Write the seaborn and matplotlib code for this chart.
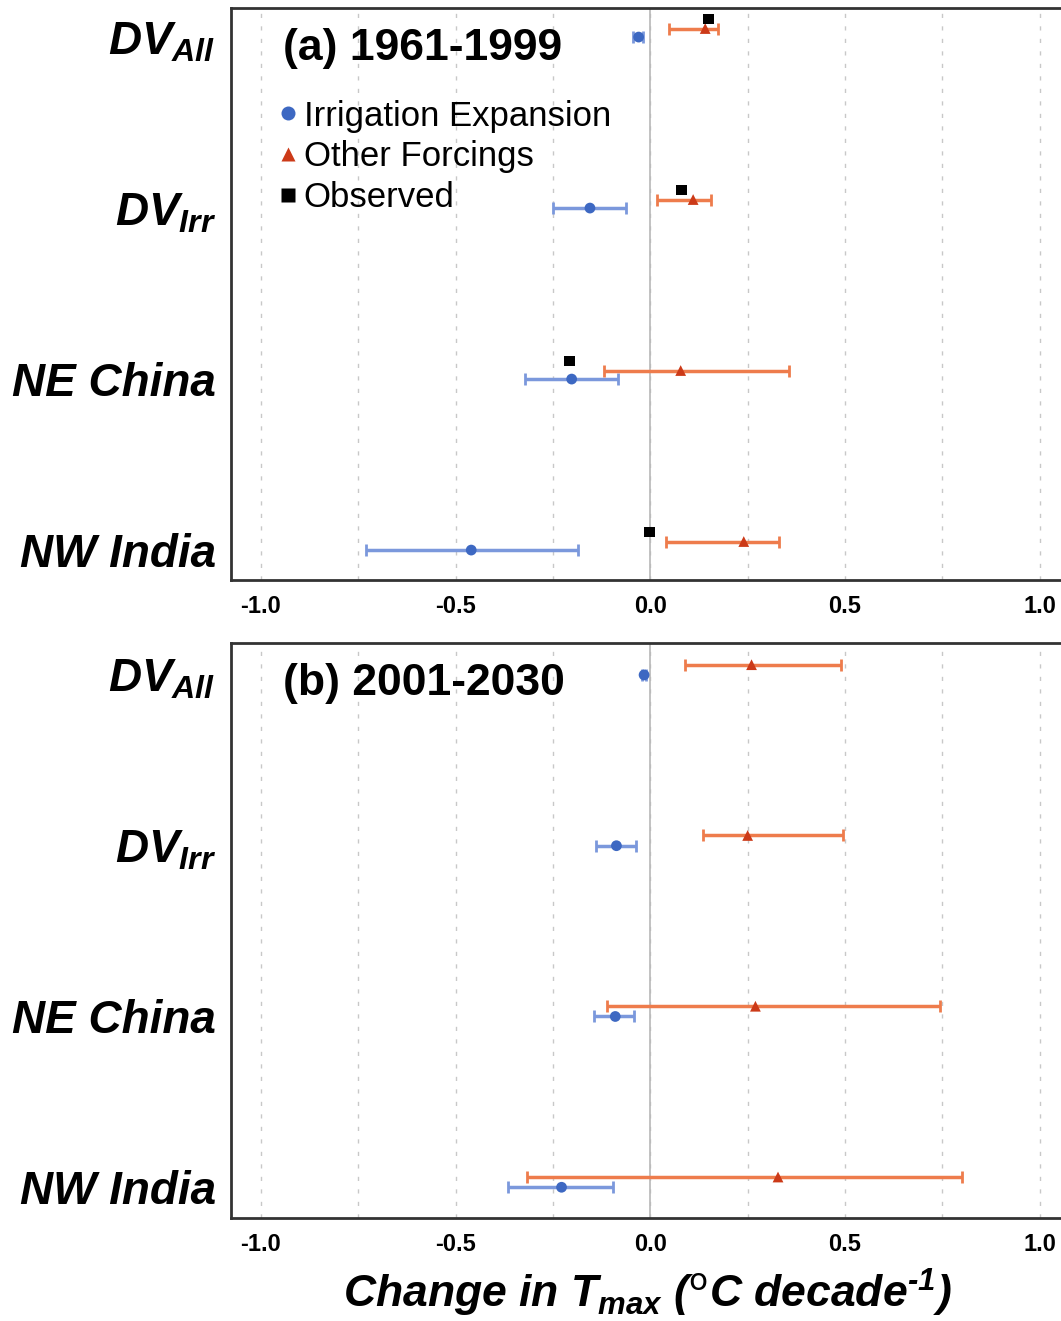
import numpy as np
import pandas as pd
import matplotlib
matplotlib.use("Agg")
import matplotlib.pyplot as plt
import seaborn as sns

# Regions (top to bottom)
regions = ["DV_All", "DV_Irr", "NE China", "NW India"]
tick_labels = [r"$DV_{All}$", r"$DV_{Irr}$", "NE China", "NW India"]

# (a) 1961-1999
a_irr = [-0.030, -0.155, -0.202, -0.460]
a_irr_lo = [-0.045, -0.250, -0.323, -0.730]
a_irr_hi = [-0.018, -0.062, -0.083, -0.185]
a_oth = [0.141, 0.110, 0.078, 0.240]
a_oth_lo = [0.049, 0.018, -0.118, 0.040]
a_oth_hi = [0.175, 0.157, 0.355, 0.330]
a_obs = [0.149, 0.080, -0.208, -0.002]

# (b) 2001-2030
b_irr = [-0.016, -0.087, -0.090, -0.228]
b_irr_lo = [-0.022, -0.139, -0.144, -0.365]
b_irr_hi = [-0.012, -0.036, -0.042, -0.097]
b_oth = [0.260, 0.250, 0.270, 0.328]
b_oth_lo = [0.090, 0.135, -0.110, -0.316]
b_oth_hi = [0.490, 0.494, 0.745, 0.800]

sns.set_style("white")
plt.rcParams['font.family'] = ['Liberation Sans', 'DejaVu Sans']
plt.rcParams['mathtext.fontset'] = 'custom'
plt.rcParams['mathtext.it'] = 'Liberation Sans:italic:bold'
plt.rcParams['mathtext.rm'] = 'Liberation Sans:italic:bold'
plt.rcParams['mathtext.bf'] = 'Liberation Sans:italic:bold'
for k in ['text.color', 'axes.labelcolor', 'xtick.color', 'ytick.color']:
    plt.rcParams[k] = 'black'

blue_pt = "#3d68c2"
blue_bar = "#7b98dc"
red_pt = "#cc3a18"
red_bar = "#ee7c4c"

palette = {"Irrigation Expansion": blue_pt,
           "Other Forcings": red_pt,
           "Observed": "black"}
markers = {"Irrigation Expansion": "o",
           "Other Forcings": "^",
           "Observed": "s"}

fig = plt.figure(figsize=(10.61, 13.21), dpi=100)
ax_a = fig.add_axes([231 / 1061, 1 - 580 / 1321, 832 / 1061, 572 / 1321])
ax_b = fig.add_axes([231 / 1061, 1 - 1218 / 1321, 832 / 1061, 575 / 1321])

ypos = np.arange(len(regions))


def panel(ax, irr, irr_lo, irr_hi, oth, oth_lo, oth_hi, obs, title, ylim,
          red_off):
    irr = np.array(irr)
    oth = np.array(oth)

    # error bars
    ax.errorbar(irr, ypos, xerr=[irr - np.array(irr_lo), np.array(irr_hi) - irr],
                fmt='none', ecolor=blue_bar, elinewidth=2.5, capsize=4,
                capthick=2, zorder=3)
    ax.errorbar(oth, ypos + red_off,
                xerr=[oth - np.array(oth_lo), np.array(oth_hi) - oth],
                fmt='none', ecolor=red_bar, elinewidth=2.5, capsize=4,
                capthick=2, zorder=3)

    frames = [
        pd.DataFrame({"value": irr, "y": ypos,
                      "series": "Irrigation Expansion"}),
        pd.DataFrame({"value": oth, "y": ypos + red_off,
                      "series": "Other Forcings"}),
    ]
    if obs is not None:
        frames.append(pd.DataFrame({"value": obs, "y": ypos - 0.105,
                                    "series": "Observed"}))
    df = pd.concat(frames, ignore_index=True)

    sns.scatterplot(data=df, x="value", y="y", hue="series", style="series",
                    palette=palette, markers=markers, s=60, edgecolor="none",
                    legend=obs is not None, ax=ax, zorder=4)

    ax.set_xlim(-1.077, 1.06)
    ax.set_ylim(*ylim)
    ax.set_xticks([-1.0, -0.5, 0.0, 0.5, 1.0])
    ax.set_xticklabels(["-1.0", "-0.5", "0.0", "0.5", "1.0"],
                       fontsize=17, fontweight='bold')
    ax.set_xticks(np.arange(-1.0, 1.01, 0.25), minor=True)
    ax.set_yticks(ypos)
    ax.set_yticklabels(tick_labels, fontsize=33, fontweight='bold',
                       fontstyle='italic')
    ax.xaxis.grid(True, which='both', linestyle=(0, (3, 6)), color="#c8c8c8",
                  linewidth=1)
    ax.yaxis.grid(False)
    ax.axvline(0, color="#b8b8b8", linewidth=1.2, zorder=1)
    ax.tick_params(axis='both', which='major', direction='in', length=4,
                   width=1.5, color="#333333")
    ax.tick_params(axis='x', which='minor', length=0)
    ax.tick_params(axis='x', pad=11)
    ax.tick_params(axis='y', pad=11)
    for s in ax.spines.values():
        s.set_color("#333333")
        s.set_linewidth(2)
    ax.set_xlabel("")
    ax.set_ylabel("")
    ax.text(0.062, 0.93, title, transform=ax.transAxes, fontsize=32,
            fontweight='bold', va='center', ha='left')


panel(ax_a, a_irr, a_irr_lo, a_irr_hi, a_oth, a_oth_lo, a_oth_hi, a_obs,
      "(a) 1961-1999", (3.175, -0.17), -0.05)
panel(ax_b, b_irr, b_irr_lo, b_irr_hi, b_oth, b_oth_lo, b_oth_hi, None,
      "(b) 2001-2030", (3.18, -0.187), -0.06)

leg = ax_a.legend(loc='upper left', bbox_to_anchor=(0.052, 0.84),
                  frameon=False, fontsize=25, handletextpad=0.05,
                  handlelength=0.8, labelspacing=0.22, borderpad=0,
                  borderaxespad=0, markerscale=1.3)

ax_b.set_xlabel(r"Change in $T_{max}$ ($^{\mathsf{o}}$C decade$^{\text{-}1}$)",
                fontsize=32, fontweight='bold', fontstyle='italic',
                labelpad=8)

fig.savefig("out.png", dpi=100)
